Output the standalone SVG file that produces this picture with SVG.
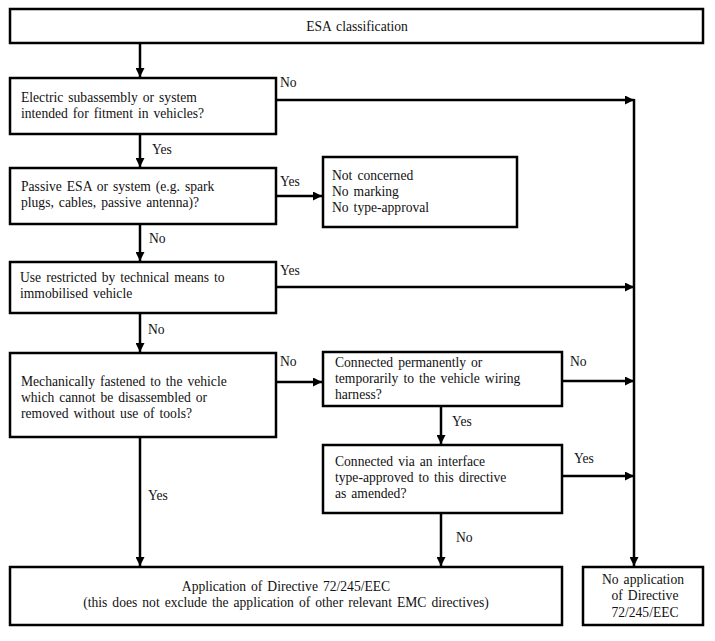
<svg xmlns="http://www.w3.org/2000/svg" width="715" height="641" viewBox="0 0 715 641">
<style>
.box{fill:#fff;stroke:#000;stroke-width:2.5}
.t{font-family:'Liberation Serif',serif;font-size:13.6px;fill:#111;word-spacing:1.6px}
.c{text-anchor:middle}
.ln{fill:none;stroke:#000;stroke-width:2.5}
</style>
<defs>
<marker id="ah" viewBox="0 0 10 10" refX="10" refY="5" markerWidth="4.4" markerHeight="3.6" orient="auto" markerUnits="strokeWidth">
<path d="M0,0 L10,5 L0,10 z" fill="#000"/>
</marker>
</defs>
<rect width="715" height="641" fill="#fff"/>
<g id="connectors">
<line class="ln" x1="140" y1="43" x2="140" y2="77" marker-end="url(#ah)"/>
<line class="ln" x1="140" y1="134" x2="140" y2="167" marker-end="url(#ah)"/>
<line class="ln" x1="140" y1="224" x2="140" y2="261" marker-end="url(#ah)"/>
<line class="ln" x1="140" y1="313" x2="140" y2="352" marker-end="url(#ah)"/>
<line class="ln" x1="140" y1="437" x2="140" y2="566" marker-end="url(#ah)"/>
<line class="ln" x1="276" y1="196" x2="322" y2="196" marker-end="url(#ah)"/>
<line class="ln" x1="276" y1="382" x2="322" y2="382" marker-end="url(#ah)"/>
<line class="ln" x1="441" y1="406" x2="441" y2="444" marker-end="url(#ah)"/>
<line class="ln" x1="441" y1="513" x2="441" y2="566" marker-end="url(#ah)"/>
<line class="ln" x1="276" y1="100" x2="634" y2="100" marker-end="url(#ah)"/>
<line class="ln" x1="276" y1="287" x2="634" y2="287" marker-end="url(#ah)"/>
<line class="ln" x1="562" y1="381" x2="634" y2="381" marker-end="url(#ah)"/>
<line class="ln" x1="562" y1="476" x2="634" y2="476" marker-end="url(#ah)"/>
<line class="ln" x1="634" y1="99" x2="634" y2="566" marker-end="url(#ah)"/>
<text class="t" x="280" y="87">No</text>
<text class="t" x="152" y="154">Yes</text>
<text class="t" x="280" y="186">Yes</text>
<text class="t" x="149" y="243">No</text>
<text class="t" x="280" y="275">Yes</text>
<text class="t" x="148" y="334">No</text>
<text class="t" x="280" y="366">No</text>
<text class="t" x="570" y="366">No</text>
<text class="t" x="452" y="426">Yes</text>
<text class="t" x="574" y="463">Yes</text>
<text class="t" x="148" y="500">Yes</text>
<text class="t" x="456" y="542">No</text>
</g>
<g id="n-esa">
<rect class="box" x="10" y="9" width="693" height="34"/>
<text class="t c" x="357" y="31">ESA classification</text>
</g>
<g id="n-electric">
<rect class="box" x="10" y="78" width="266" height="56"/>
<text class="t" x="21" y="102">Electric subassembly or system</text>
<text class="t" x="21" y="118">intended for fitment in vehicles?</text>
</g>
<g id="n-passive">
<rect class="box" x="10" y="168" width="266" height="56"/>
<text class="t" x="21" y="191">Passive ESA or system (e.g. spark</text>
<text class="t" x="21" y="207">plugs, cables, passive antenna)?</text>
</g>
<g id="n-notconcerned">
<rect class="box" x="323" y="157" width="194" height="70"/>
<text class="t" x="332" y="180">Not concerned</text>
<text class="t" x="332" y="196">No marking</text>
<text class="t" x="332" y="212">No type-approval</text>
</g>
<g id="n-restricted">
<rect class="box" x="10" y="262" width="266" height="51"/>
<text class="t" x="20" y="282">Use restricted by technical means to</text>
<text class="t" x="20" y="298">immobilised vehicle</text>
</g>
<g id="n-mechanical">
<rect class="box" x="10" y="353" width="266" height="84"/>
<text class="t" x="21" y="386">Mechanically fastened to the vehicle</text>
<text class="t" x="21" y="402">which cannot be disassembled or</text>
<text class="t" x="21" y="418">removed without use of tools?</text>
</g>
<g id="n-connected">
<rect class="box" x="323" y="352" width="239" height="54"/>
<text class="t" x="335" y="367">Connected permanently or</text>
<text class="t" x="335" y="383">temporarily to the vehicle wiring</text>
<text class="t" x="335" y="399">harness?</text>
</g>
<g id="n-interface">
<rect class="box" x="323" y="445" width="239" height="68"/>
<text class="t" x="335" y="466">Connected via an interface</text>
<text class="t" x="335" y="482">type-approved to this directive</text>
<text class="t" x="335" y="498">as amended?</text>
</g>
<g id="n-application">
<rect class="box" x="10" y="567" width="552" height="58"/>
<text class="t c" x="286" y="591">Application of Directive 72/245/EEC</text>
<text class="t c" x="286" y="607">(this does not exclude the application of other relevant EMC directives)</text>
</g>
<g id="n-noapplication">
<rect class="box" x="583" y="567" width="120" height="58"/>
<text class="t c" x="643" y="584">No application</text>
<text class="t c" x="645" y="600">of Directive</text>
<text class="t c" x="645" y="617">72/245/EEC</text>
</g>
</svg>
